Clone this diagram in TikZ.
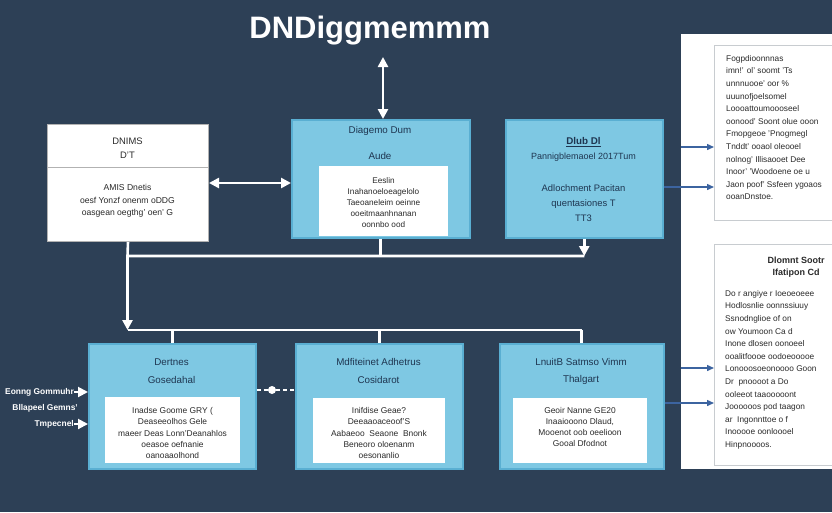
\documentclass[tikz,border=0pt]{standalone}
\usepackage{fontspec}
\setmainfont{Liberation Sans}
\usetikzlibrary{arrows.meta,calc}
\definecolor{bg}{HTML}{2D4056}
\definecolor{lblue}{HTML}{7EC8E3}
\definecolor{bblue}{HTML}{5AAFD2}
\definecolor{navy}{HTML}{1E3550}
\definecolor{arrblue}{HTML}{3C64A0}
\definecolor{ink}{HTML}{2A2A2A}
\definecolor{panelgray}{HTML}{C8CCD0}
\begin{document}
\begin{tikzpicture}[x=1pt,y=-1pt,
  bluebox/.style={fill=lblue,draw=bblue,line width=1.5,anchor=north west,inner sep=0},
  innerbox/.style={fill=white,anchor=north west,inner sep=0},
  whitebox/.style={fill=white,draw=gray!60,line width=1,anchor=north west,inner sep=0},
  paneltext/.style={anchor=north west,align=left,text=ink,font=\fontsize{8.3}{12.6}\selectfont,inner sep=0},
  btitle/.style={text=navy,font=\fontsize{9.8}{10}\selectfont},
  btext/.style={text=ink,align=center,font=\fontsize{8.4}{11.2}\selectfont},
  warr/.style={draw=white,line width=2.6,-{Triangle[width=10,length=10]}},
  wline/.style={draw=white,line width=2.6},
  barr/.style={draw=arrblue,line width=1.4,-{Triangle[width=6,length=7]}}]
\fill[bg] (0,0) rectangle (832,512);
\useasboundingbox (0,0) rectangle (832,512);

% title
\node[text=white,font=\bfseries\fontsize{31}{31}\selectfont] (title) at (370,31) {DNDiggmemmm};

% top row
\node[whitebox,minimum width=161,minimum height=117] (lb) at (47,124) {};
\draw[gray!60,line width=1] (47,167) -- (208,167);
\node[btext,font=\fontsize{9.4}{14}\selectfont] (lbh) at (127.5,148) {DNIMS\\D'T};
\node[btext,font=\fontsize{8.6}{12.5}\selectfont] (lbt) at (127.5,201) {AMIS Dnetis\\oesf Yonzf onenm oDDG\\oasgean oegthg' oen' G};

\node[bluebox,minimum width=178,minimum height=118] (b1) at (291,119) {};
\node[btitle] (b1h) at (380,131) {Diagemo Dum};
\node[btitle] (b1s) at (380,156) {Aude};
\node[innerbox,minimum width=129,minimum height=70] (b1i) at (319,166) {};
\node[btext,font=\fontsize{8.2}{11}\selectfont] (b1t) at (383.5,203) {Eeslin\\Inahanoeloeagelolo\\Taeoaneleim oeinne\\ooeitmaanhnanan\\oonnbo ood};

\node[bluebox,minimum width=157,minimum height=118] (b2) at (505,119) {};
\node[btitle,font=\bfseries\fontsize{9.8}{10}\selectfont] (b2h) at (583.5,142) {\underline{Dlub Dl}};
\node[btext,text=navy,font=\fontsize{9}{10}\selectfont] (b2s) at (583.5,157) {Pannigblemaoel 2017Tum};
\node[btext,text=navy,font=\fontsize{9.4}{15}\selectfont] (b2t) at (583.5,203) {Adlochment Pacitan\\quentasiones T\\TT3};

% bottom row
\node[bluebox,minimum width=167,minimum height=125] (A) at (88,343) {};
\node[btitle] (Ah) at (171.5,362) {Dertnes};
\node[btitle] (As) at (171.5,380) {Gosedahal};
\node[innerbox,minimum width=135,minimum height=66] (Ai) at (105,397) {};
\node[btext] (At) at (172.5,433) {Inadse Goome GRY (\\Deaseeolhos Gele\\maeer Deas Lonn'Deanahlos\\oeasoe oefnanie\\oanoaaolhond};

\node[bluebox,minimum width=167,minimum height=125] (B) at (295,343) {};
\node[btitle] (Bh) at (378.5,362) {Mdfiteinet Adhetrus};
\node[btitle] (Bs) at (378.5,380) {Cosidarot};
\node[innerbox,minimum width=132,minimum height=65] (Bi) at (313,398) {};
\node[btext] (Bt) at (379,433) {Inifdise Geae?\\Deeaaoaceoof'S\\Aabaeoo\ \ Seaone\ \ Bnonk\\Beneoro oloenanm\\oesonanlio};

\node[bluebox,minimum width=164,minimum height=125] (C) at (499,343) {};
\node[btitle] (Ch) at (581,362) {LnuitB Satmso Vimm};
\node[btitle] (Cs) at (581,380) {Thalgart};
\node[innerbox,minimum width=134,minimum height=65] (Ci) at (513,398) {};
\node[btext] (Ct) at (580,427) {Geoir Nanne GE20\\Inaaiooono Dlaud,\\Mooenot oob oeelioon\\Gooal Dfodnot};

% left labels
\node[anchor=east,text=white,font=\bfseries\fontsize{8.4}{9}\selectfont,inner sep=0] (l1) at (74,392) {Eonng Gommuhr};
\node[anchor=east,text=white,font=\bfseries\fontsize{8.4}{9}\selectfont,inner sep=0] (l2) at (78,408) {Bllapeel Gemns'};
\node[anchor=east,text=white,font=\bfseries\fontsize{8.4}{9}\selectfont,inner sep=0] (l3) at (74,424) {Tmpecnel};
\draw[warr,line width=2] (l1.east) -- (l1.east -| A.west);
\draw[warr,line width=2] (l3.east) -- (l3.east -| A.west);

% right panel
\begin{scope}
\clip (0,0) rectangle (832,512);
\node[fill=white,anchor=north west,minimum width=170,minimum height=435,inner sep=0] (rp) at (681,34) {};
\node[whitebox,draw=panelgray,minimum width=140,minimum height=175] (rt) at (714,45) {};
\node[whitebox,draw=panelgray,minimum width=140,minimum height=221] (rb) at (714,244) {};
\node[paneltext] (rtt) at (726,55) {Fogpdioonnnas\\imn!' ol' soomt 'Ts\\unnnuooe' oor \%\\uuunofjoelsomel\\Loooattoumoooseel\\oonood' Soont olue ooon\\Fmopgeoe 'Pnogmegl\\Tnddt' ooaol oleooel\\nolnog' Illisaooet Dee\\Inoor' 'Woodoene oe u\\Jaon poof' Ssfeen ygoaos\\ooanDnstoe.};
\node[text=ink,align=center,font=\bfseries\fontsize{9}{11.5}\selectfont] (rbh) at (796,267) {Dlomnt Sootr\\Ifatipon Cd};
\node[paneltext] (rbt) at (725,290) {Do r angiye r Ioeoeoeee\\Hodlosnlie oonnssiuuy\\Ssnodnglioe of on\\ow Youmoon Ca d\\Inone dlosen oonoeel\\ooalitfoooe oodoeooooe\\Lonooosoeonoooo Goon\\Dr\ \ pnoooot a Do\\ooleeot taaooooont\\Joooooos pod taagon\\ar\ \ Ingonnttoe o f\\Inooooe oonloooel\\Hinpnoooos.};
\end{scope}

% connectors
\coordinate (tt) at (383,57);
\draw[wline,{Triangle[width=10,length=10]}-{Triangle[width=10,length=10]}] (tt) -- (tt |- b1.north);
\draw[wline,{Triangle[width=10,length=10]}-{Triangle[width=10,length=10]}] (lb.east) -- (lb.east -| b1.west);

\coordinate (u1) at (127.5,256);
\coordinate (u2) at (b2.south |- u1);
\coordinate (m1) at (127.5,330);
\coordinate (m2) at (C.north |- m1);
\draw[wline] (lb.south) -- (u1) -- (u2);
\draw[wline] (b1.south) -- (b1.south |- u1);
\draw[warr] (b2.south) -- (u2);
\draw[warr] (u1) -- (m1);
\draw[wline] (m1) -- (m2);
\draw[wline] (A.north |- m1) -- (A.north);
\draw[wline] (B.north |- m1) -- (B.north);
\draw[wline] (m2) -- (C.north);

% dashed link between A and B
\node[circle,fill=white,minimum size=8,inner sep=0] (dot) at (272,390) {};
\draw[white,line width=2,dash pattern=on 4 off 3] (A.east |- dot) -- (dot) -- (dot -| B.west);

% blue arrows to panel
\draw[barr] (rp.west |- 0,147) -- (rt.west |- 0,147);
\draw[barr] (b2.east |- 0,187) -- (rt.west |- 0,187);
\draw[barr] (rp.west |- 0,368) -- (rb.west |- 0,368);
\draw[barr] (C.east |- 0,403) -- (rb.west |- 0,403);
\end{tikzpicture}
\end{document}
